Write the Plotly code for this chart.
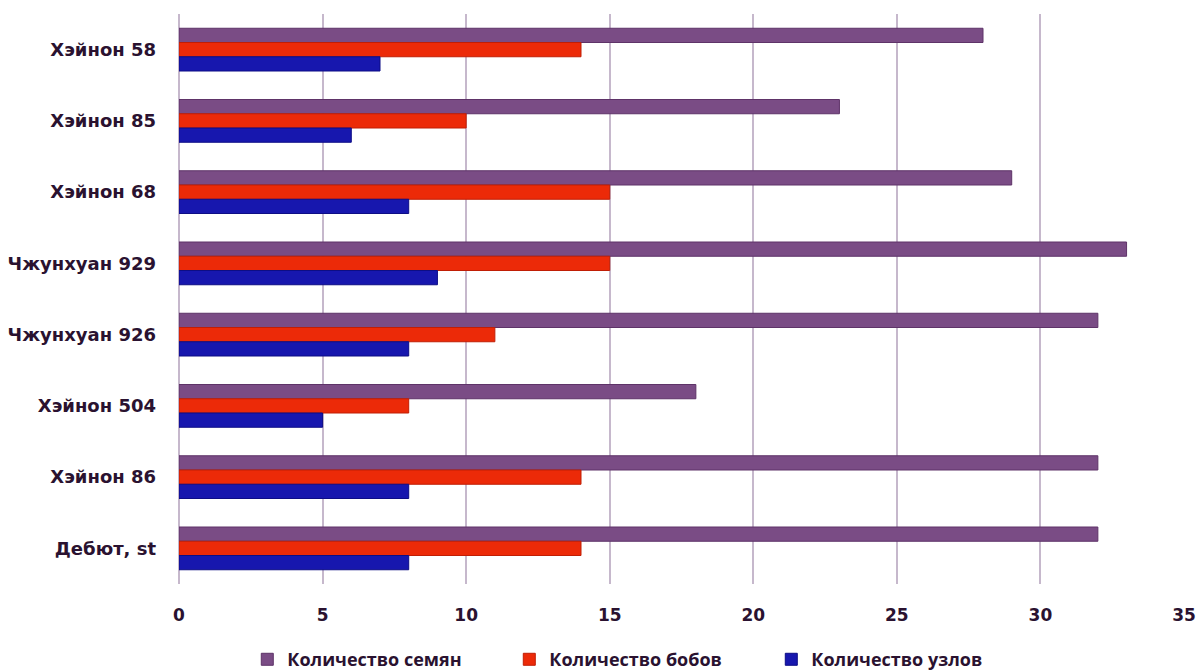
import plotly.graph_objects as go

categories = ["Хэйнон 58", "Хэйнон 85", "Хэйнон 68", "Чжунхуан 929",
              "Чжунхуан 926", "Хэйнон 504", "Хэйнон 86", "Дебют, st"]
seeds = [28, 23, 29, 33, 32, 18, 32, 32]
pods = [14, 10, 15, 15, 11, 8, 14, 14]
nodes = [7, 6, 8, 9, 8, 5, 8, 8]
x_ticks = [0, 5, 10, 15, 20, 25, 30, 35]

series = [
    ("Количество семян", seeds, "#7A4C85", "#5E3368"),
    ("Количество бобов", pods, "#EC2A08", "#C01E05"),
    ("Количество узлов", nodes, "#1717AE", "#0D0D85"),
]

fig = go.Figure()
for name, vals, col, line in series:
    fig.add_trace(go.Bar(
        y=categories, x=vals, name=name, orientation="h",
        marker=dict(color=col, line=dict(color=line, width=1)),
    ))

fig.update_layout(
    width=1199, height=671,
    margin=dict(l=179, r=15, t=14, b=87, autoexpand=False),
    plot_bgcolor="white", paper_bgcolor="white",
    barmode="group", bargap=0.4, bargroupgap=0,
    font=dict(family="DejaVu Sans, sans-serif", color="#2A1230"),
    xaxis=dict(range=[0, 35], tickvals=x_ticks, showgrid=True, automargin=False,
               gridcolor="#C6B8CC", gridwidth=1.5,
               zeroline=True, zerolinecolor="#C6B8CC", zerolinewidth=1.5,
               ticks="", tickfont=dict(size=17, weight="bold", color="#2A1230"),
               ticklabelstandoff=19),
    yaxis=dict(autorange="reversed", showgrid=False, ticks="", automargin=False,
               tickfont=dict(size=18, weight="bold", color="#2A1230"),
               ticklabelstandoff=22),
    legend=dict(orientation="h", x=0.459, xanchor="center",
                yref="container", y=0.017, yanchor="middle",
                font=dict(family="Open Sans, sans-serif", size=18, weight="bold",
                          color="#2A1230"),
                traceorder="normal", itemwidth=30, entrywidth=217),
)

fig.write_html("out.html")
